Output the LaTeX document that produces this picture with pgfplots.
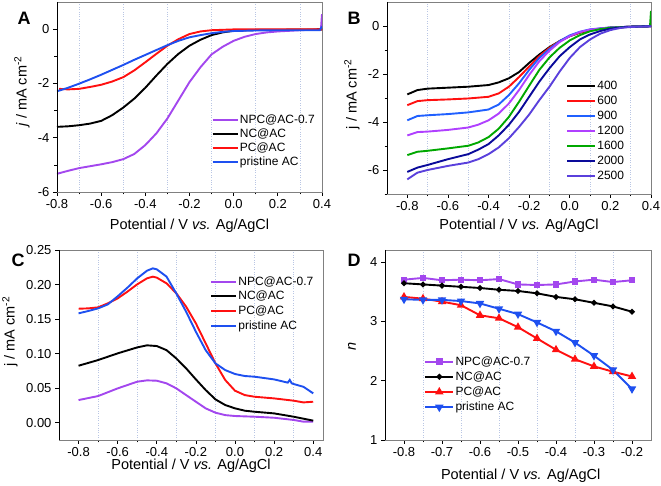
\documentclass[border=0pt]{standalone}
\usepackage{fontspec}
\setmainfont{Liberation Sans}
\usepackage{pgfplots}
\pgfplotsset{compat=1.18}
\definecolor{cpur}{HTML}{A347EE}
\definecolor{cred}{HTML}{FF1010}
\definecolor{cblue}{HTML}{1E50F0}
\definecolor{bblue}{HTML}{2060FF}
\definecolor{bpur}{HTML}{B040FF}
\definecolor{bgreen}{HTML}{00A800}
\definecolor{bnavy}{HTML}{0A0A9A}
\definecolor{bvio}{HTML}{5A40DC}
\definecolor{gridc}{RGB}{185,198,228}
\pgfplotsset{
  panel/.style={
    scale only axis,
    axis line style={draw=black!50, line width=0.7pt},
    tick align=outside,
    xtick pos=left, ytick pos=left,
    major tick length=4pt, minor tick length=2.5pt,
    every tick/.style={black, line width=0.7pt},
    minor x tick num=1,
    xminorgrids=true,
    minor grid style={dotted, gridc, line width=0.6pt},
    ticklabel style={font=\fontsize{13}{15}\selectfont},
    label style={font=\fontsize{14.5}{17}\selectfont},
    legend style={draw=none, fill=none, font=\fontsize{12}{14}\selectfont, inner sep=0pt, row sep=1.5pt,
      nodes={inner sep=1.2pt}},
    legend cell align=left,
    legend image code/.code={\draw[##1, line width=2pt] (0pt,0pt) -- (25pt,0pt);},
    /pgf/number format/assume math mode=true,
    every axis plot/.append style={line width=1.9pt},
    execute at end axis={\draw[black, line width=0.8pt] (rel axis cs:0,1) -- (rel axis cs:0,0) -- (rel axis cs:1,0);},
  },
  fx/.style={xticklabel style={/pgf/number format/.cd, fixed, fixed zerofill, precision=1}},
  xl/.style={xlabel style={at={(axis description cs:#1)}, anchor=base, inner sep=0pt}},
  mklegend/.style={legend image code/.code={\draw[mark repeat=2, mark phase=2, ##1, line width=2pt] plot coordinates {(0pt,0pt) (14pt,0pt) (28pt,0pt)};}},
}
\begin{document}
\begin{tikzpicture}
\useasboundingbox (0,0) rectangle (661pt,486pt);
% ---------------- A ----------------
\begin{axis}[panel, fx, at={(57pt,294pt)}, anchor=south west, width=265pt, height=190pt,
  xmin=-0.8, xmax=0.4, ymin=-6, ymax=1,
  xtick={-0.8,-0.6,-0.4,-0.2,0,0.2,0.4},
  ytick={-6,-4,-2,0}, minor ytick={-5,-3,-1},
  xlabel={Potential / V \textit{vs.} Ag/AgCl},
  ylabel={\textit{j} / mA cm\textsuperscript{-2}},
  xl={0.5,-0.2},
  ylabel style={at={(axis description cs:-0.132,0.53)}, anchor=center},
  legend style={at={(axis description cs:0.583,0.415)}, anchor=north west}]
\addplot[cpur] coordinates {(-0.8,-5.33)(-0.75,-5.22)(-0.7,-5.12)(-0.65,-5.05)(-0.6,-4.98)(-0.55,-4.9)(-0.5,-4.79)(-0.45,-4.6)(-0.4,-4.27)(-0.35,-3.84)(-0.3,-3.29)(-0.25,-2.62)(-0.2,-1.95)(-0.15,-1.4)(-0.1,-0.93)(-0.05,-0.65)(0,-0.43)(0.05,-0.28)(0.1,-0.18)(0.15,-0.12)(0.2,-0.085)(0.3,-0.04)(0.395,-0.01)(0.4,0.55)};
\addlegendentry{NPC@AC-0.7}
\addplot[black] coordinates {(-0.8,-3.6)(-0.75,-3.58)(-0.7,-3.54)(-0.65,-3.48)(-0.6,-3.38)(-0.55,-3.17)(-0.5,-2.89)(-0.45,-2.56)(-0.4,-2.16)(-0.35,-1.71)(-0.3,-1.28)(-0.25,-0.91)(-0.2,-0.61)(-0.15,-0.39)(-0.1,-0.22)(-0.05,-0.12)(0,-0.06)(0.1,-0.03)(0.4,-0.01)};
\addlegendentry{NC@AC}
\addplot[cred] coordinates {(-0.79,-2.2)(-0.75,-2.22)(-0.7,-2.2)(-0.65,-2.13)(-0.6,-2.05)(-0.55,-1.93)(-0.5,-1.77)(-0.45,-1.52)(-0.4,-1.22)(-0.35,-0.91)(-0.3,-0.61)(-0.25,-0.37)(-0.2,-0.18)(-0.15,-0.085)(-0.1,-0.04)(0,-0.01)(0.4,-0.01)};
\addlegendentry{PC@AC}
\addplot[cblue] coordinates {(-0.8,-2.29)(-0.75,-2.16)(-0.7,-2.01)(-0.65,-1.85)(-0.6,-1.68)(-0.55,-1.5)(-0.5,-1.32)(-0.45,-1.13)(-0.4,-0.95)(-0.35,-0.77)(-0.3,-0.59)(-0.25,-0.43)(-0.2,-0.3)(-0.15,-0.22)(-0.1,-0.15)(-0.05,-0.1)(0,-0.07)(0.1,-0.05)(0.2,-0.04)(0.39,-0.04)(0.4,0.1)};
\addlegendentry{pristine AC}
\end{axis}
% ---------------- B ----------------
\begin{axis}[panel, fx, at={(387pt,292pt)}, anchor=south west, width=264pt, height=192pt,
  xmin=-0.9, xmax=0.4, ymin=-7, ymax=1,
  xtick={-0.8,-0.6,-0.4,-0.2,0,0.2,0.4},
  ytick={-6,-4,-2,0}, minor ytick={-7,-5,-3,-1},
  xlabel={Potential / V \textit{vs.} Ag/AgCl},
  ylabel={j / mA cm\textsuperscript{-2}},
  xl={0.5,-0.1875},
  ylabel style={at={(axis description cs:-0.133,0.52)}, anchor=center},
  legend image code/.code={\draw[#1, line width=2pt] (0pt,0pt) -- (28pt,0pt);},
  legend style={at={(axis description cs:0.678,0.594)}, anchor=north west, row sep=2.6pt}]
\addplot[black] coordinates {(-0.8,-2.85)(-0.75,-2.67)(-0.7,-2.61)(-0.6,-2.57)(-0.5,-2.53)(-0.4,-2.46)(-0.35,-2.35)(-0.3,-2.18)(-0.25,-1.92)(-0.2,-1.54)(-0.15,-1.19)(-0.1,-0.88)(-0.05,-0.63)(0,-0.42)(0.05,-0.28)(0.1,-0.18)(0.15,-0.11)(0.2,-0.07)(0.3,-0.03)(0.4,-0.01)};
\addlegendentry{400}
\addplot[cred] coordinates {(-0.8,-3.3)(-0.75,-3.13)(-0.7,-3.09)(-0.6,-3.06)(-0.5,-3.02)(-0.4,-2.95)(-0.35,-2.81)(-0.3,-2.53)(-0.25,-2.13)(-0.2,-1.69)(-0.15,-1.26)(-0.1,-0.91)(-0.05,-0.63)(0,-0.42)(0.05,-0.27)(0.1,-0.17)(0.2,-0.07)(0.3,-0.03)(0.4,-0.01)};
\addlegendentry{600}
\addplot[bblue] coordinates {(-0.8,-3.93)(-0.75,-3.75)(-0.7,-3.72)(-0.6,-3.67)(-0.5,-3.6)(-0.4,-3.48)(-0.35,-3.27)(-0.3,-2.88)(-0.25,-2.39)(-0.2,-1.83)(-0.15,-1.33)(-0.1,-0.96)(-0.05,-0.63)(0,-0.39)(0.05,-0.24)(0.1,-0.14)(0.2,-0.06)(0.3,-0.03)(0.4,-0.01)};
\addlegendentry{900}
\addplot[bpur] coordinates {(-0.8,-4.56)(-0.75,-4.42)(-0.7,-4.4)(-0.6,-4.33)(-0.5,-4.23)(-0.45,-4.11)(-0.4,-3.93)(-0.35,-3.65)(-0.3,-3.23)(-0.25,-2.67)(-0.2,-2.04)(-0.15,-1.47)(-0.1,-1.03)(-0.05,-0.67)(0,-0.42)(0.05,-0.25)(0.1,-0.15)(0.2,-0.06)(0.3,-0.03)(0.4,-0.01)};
\addlegendentry{1200}
\addplot[bgreen] coordinates {(-0.8,-5.38)(-0.75,-5.24)(-0.7,-5.2)(-0.6,-5.1)(-0.5,-4.99)(-0.45,-4.85)(-0.4,-4.63)(-0.35,-4.28)(-0.3,-3.79)(-0.25,-3.16)(-0.2,-2.49)(-0.15,-1.83)(-0.1,-1.31)(-0.05,-0.91)(0,-0.6)(0.05,-0.38)(0.1,-0.22)(0.15,-0.13)(0.2,-0.07)(0.3,-0.03)(0.395,-0.01)(0.4,0.63)};
\addlegendentry{1600}
\addplot[bnavy] coordinates {(-0.8,-6.08)(-0.75,-5.9)(-0.7,-5.79)(-0.6,-5.55)(-0.5,-5.34)(-0.45,-5.15)(-0.4,-4.92)(-0.35,-4.56)(-0.3,-4.12)(-0.25,-3.58)(-0.2,-2.95)(-0.15,-2.32)(-0.1,-1.76)(-0.05,-1.26)(0,-0.88)(0.05,-0.56)(0.1,-0.35)(0.15,-0.21)(0.2,-0.11)(0.25,-0.06)(0.3,-0.03)(0.4,-0.01)};
\addlegendentry{2000}
\addplot[bvio] coordinates {(-0.8,-6.39)(-0.75,-6.11)(-0.7,-6.0)(-0.6,-5.83)(-0.5,-5.69)(-0.45,-5.55)(-0.4,-5.34)(-0.35,-5.06)(-0.3,-4.68)(-0.25,-4.21)(-0.2,-3.69)(-0.15,-3.09)(-0.1,-2.53)(-0.05,-1.9)(0,-1.33)(0.05,-0.88)(0.1,-0.56)(0.15,-0.32)(0.2,-0.17)(0.25,-0.08)(0.3,-0.04)(0.4,-0.01)};
\addlegendentry{2500}
\end{axis}
% ---------------- C ----------------
\begin{axis}[panel, fx, at={(59pt,46pt)}, anchor=south west, width=264pt, height=190pt,
  xmin=-0.9, xmax=0.45, ymin=-0.025, ymax=0.25,
  xtick={-0.8,-0.6,-0.4,-0.2,0,0.2,0.4},
  ytick={0,0.05,0.1,0.15,0.2,0.25},
  yticklabel style={/pgf/number format/.cd, fixed, fixed zerofill, precision=2},
  xlabel={Potential / V \textit{vs.} Ag/AgCl},
  ylabel={j / mA cm\textsuperscript{-2}},
  xl={0.5,-0.154},
  ylabel style={at={(axis description cs:-0.186,0.57)}, anchor=center},
  legend style={at={(axis description cs:0.572,0.868)}, anchor=north west, row sep=2.2pt}]
\addplot[cpur] coordinates {(-0.8,0.0328)(-0.7,0.0386)(-0.6,0.0497)(-0.5,0.0594)(-0.45,0.0613)(-0.4,0.0608)(-0.35,0.057)(-0.3,0.0497)(-0.25,0.04)(-0.2,0.0304)(-0.15,0.0208)(-0.1,0.0145)(-0.05,0.011)(0,0.0097)(0.1,0.0087)(0.2,0.0072)(0.3,0.004)(0.35,0.0015)(0.4,0.0015)};
\addlegendentry{NPC@AC-0.7}
\addplot[black] coordinates {(-0.8,0.0825)(-0.7,0.0907)(-0.6,0.1004)(-0.5,0.109)(-0.45,0.112)(-0.4,0.111)(-0.35,0.105)(-0.3,0.093)(-0.25,0.0787)(-0.2,0.0627)(-0.15,0.0473)(-0.1,0.0338)(-0.05,0.0256)(0,0.0208)(0.05,0.0174)(0.1,0.0159)(0.2,0.0135)(0.3,0.0087)(0.4,0.003)};
\addlegendentry{NC@AC}
\addplot[cred] coordinates {(-0.8,0.165)(-0.75,0.1655)(-0.7,0.167)(-0.65,0.1728)(-0.6,0.18)(-0.55,0.1897)(-0.5,0.2003)(-0.45,0.209)(-0.42,0.2114)(-0.4,0.21)(-0.35,0.2017)(-0.3,0.1873)(-0.25,0.168)(-0.2,0.1438)(-0.15,0.1149)(-0.1,0.0859)(-0.05,0.0618)(0,0.0463)(0.05,0.04)(0.1,0.0376)(0.2,0.0352)(0.3,0.0319)(0.35,0.0294)(0.4,0.0304)};
\addlegendentry{PC@AC}
\addplot[cblue] coordinates {(-0.8,0.1583)(-0.75,0.1617)(-0.7,0.1655)(-0.65,0.1713)(-0.6,0.183)(-0.55,0.1955)(-0.5,0.209)(-0.45,0.22)(-0.42,0.2234)(-0.4,0.222)(-0.35,0.2114)(-0.3,0.187)(-0.25,0.1607)(-0.2,0.1317)(-0.15,0.105)(-0.1,0.0859)(-0.05,0.0762)(0,0.0705)(0.05,0.0676)(0.1,0.0666)(0.2,0.0627)(0.27,0.058)(0.28,0.062)(0.29,0.057)(0.3,0.056)(0.35,0.052)(0.4,0.0425)};
\addlegendentry{pristine AC}
\end{axis}
% ---------------- D ----------------
\begin{axis}[panel, fx, mklegend, at={(385pt,46pt)}, anchor=south west, width=266pt, height=190pt,
  xmin=-0.85, xmax=-0.15, ymin=1, ymax=4.2,
  xtick={-0.8,-0.7,-0.6,-0.5,-0.4,-0.3,-0.2},
  ytick={1,2,3,4},
  xlabel={Potential / V \textit{vs.} Ag/AgCl},
  ylabel={\textit{n}},
  xl={0.51,-0.2105},
  ylabel style={at={(axis description cs:-0.124,0.49)}, anchor=center},
  legend style={at={(axis description cs:0.147,0.447)}, anchor=north west, row sep=2.6pt}]
\addplot[cpur, mark=square*, mark size=2.2pt] coordinates {(-0.8,3.70)(-0.75,3.73)(-0.7,3.69)(-0.65,3.70)(-0.6,3.69)(-0.55,3.71)(-0.5,3.62)(-0.45,3.61)(-0.4,3.62)(-0.35,3.67)(-0.3,3.70)(-0.25,3.66)(-0.2,3.69)};
\addlegendentry{NPC@AC-0.7}
\addplot[black, mark=*, mark size=1.8pt] coordinates {(-0.8,3.64)(-0.75,3.62)(-0.7,3.60)(-0.65,3.58)(-0.6,3.56)(-0.55,3.53)(-0.5,3.51)(-0.45,3.47)(-0.4,3.41)(-0.35,3.37)(-0.3,3.31)(-0.25,3.25)(-0.2,3.16)};
\addlegendentry{NC@AC}
\addplot[cred, mark=triangle*, mark size=3pt] coordinates {(-0.8,3.41)(-0.75,3.38)(-0.7,3.33)(-0.65,3.27)(-0.6,3.10)(-0.55,3.05)(-0.5,2.90)(-0.45,2.71)(-0.4,2.52)(-0.35,2.36)(-0.3,2.24)(-0.25,2.15)(-0.2,2.07)};
\addlegendentry{PC@AC}
\addplot[cblue, mark=triangle*, mark size=3pt, mark options={rotate=180}] coordinates {(-0.8,3.37)(-0.75,3.36)(-0.7,3.36)(-0.65,3.34)(-0.6,3.30)(-0.55,3.21)(-0.5,3.12)(-0.45,2.98)(-0.4,2.83)(-0.35,2.64)(-0.3,2.42)(-0.25,2.18)(-0.2,1.86)};
\addlegendentry{pristine AC}
\end{axis}
% panel letters
\node[font=\fontsize{18}{20}\selectfont\bfseries] at (24pt,468pt) {A};
\node[font=\fontsize{18}{20}\selectfont\bfseries] at (354pt,468pt) {B};
\node[font=\fontsize{18}{20}\selectfont\bfseries] at (18pt,226pt) {C};
\node[font=\fontsize{18}{20}\selectfont\bfseries] at (354pt,226pt) {D};
\end{tikzpicture}
\end{document}
